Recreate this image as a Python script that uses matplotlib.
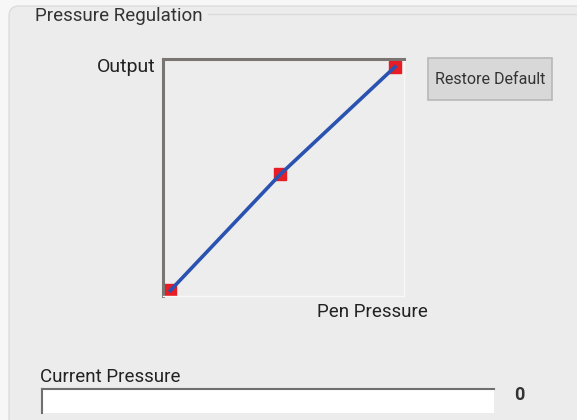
import matplotlib.pyplot as plt
from matplotlib.patches import FancyBboxPatch, Rectangle

plt.rcParams['font.family'] = ['Roboto', 'DejaVu Sans']

# curve control points (pen pressure -> output)
pen_pressure = [0.0, 0.49, 1.0]
output = [0.0, 0.52, 1.0]
current_pressure = 0

title = "Pressure Regulation"
x_label = "Pen Pressure"
y_label = "Output"
button_label = "Restore Default"
bar_label = "Current Pressure"

W, H = 577, 420
fig = plt.figure(figsize=(W / 100, H / 100), dpi=100)
fig.patch.set_facecolor('#f7f7f7')


def box(x0, y0, x1, y1):
    # pixel box (top-left origin) -> figure fraction rect
    return [x0 / W, 1 - y1 / H, (x1 - x0) / W, (y1 - y0) / H]


# panel background, drawn in pixel coords
bg = fig.add_axes([0, 0, 1, 1])
bg.set_xlim(0, W)
bg.set_ylim(H, 0)
bg.axis('off')
bg.add_patch(FancyBboxPatch((9, 6), 580, 430, boxstyle="round,pad=0,rounding_size=10",
                            fc='#ececec', ec='#dcdcdc', lw=1))
bg.plot([208, 577], [14, 14], color='#dadada', lw=1)
bg.text(35, 16, title, fontsize=13.5, color='#333333', va='center', ha='left')

# button
bg.add_patch(Rectangle((428, 58), 124, 42, fc='#d8d8d8', ec='#b8b8b8', lw=1.2))
bg.text(490, 79, button_label, fontsize=11.5, color='#333333', va='center', ha='center')

# axis labels
bg.text(156, 67, y_label, fontsize=14, color='#222222', va='center', ha='right')
bg.text(372, 312, x_label, fontsize=13.5, color='#222222', va='center', ha='center')

# current pressure bar
bg.text(40, 377, bar_label, fontsize=13.5, color='#222222', va='center', ha='left')
bg.add_patch(Rectangle((42, 389), 452, 24, fc='#ffffff', ec='none'))
bg.plot([42, 494], [389, 389], color='#6f6f6f', lw=1.5)
bg.plot([42, 42], [389, 413], color='#6f6f6f', lw=1.5)
bg.text(519, 395, str(current_pressure), fontsize=13, fontweight='bold', color='#333333',
        va='center', ha='center')

# curve plot
ax = fig.add_axes(box(163, 59, 404, 296))
ax.set_facecolor('#ededed')
ax.set_xlim(-0.033, 1.04)
ax.set_ylim(-0.025, 1.035)
ax.set_xticks([])
ax.set_yticks([])
for side in ['right', 'bottom']:
    ax.spines[side].set_color('#f8f8f8')
    ax.spines[side].set_linewidth(1)
for side in ['left', 'top']:
    ax.spines[side].set_color('#7b7572')
    ax.spines[side].set_linewidth(2.2)
ax.plot(pen_pressure, output, color='#2a52b0', lw=2.6, zorder=3)
ax.plot(pen_pressure, output, linestyle='none', marker='s', markersize=8,
        color='#e81c24', zorder=2)

fig.savefig('out.png', dpi=100, facecolor=fig.get_facecolor())
